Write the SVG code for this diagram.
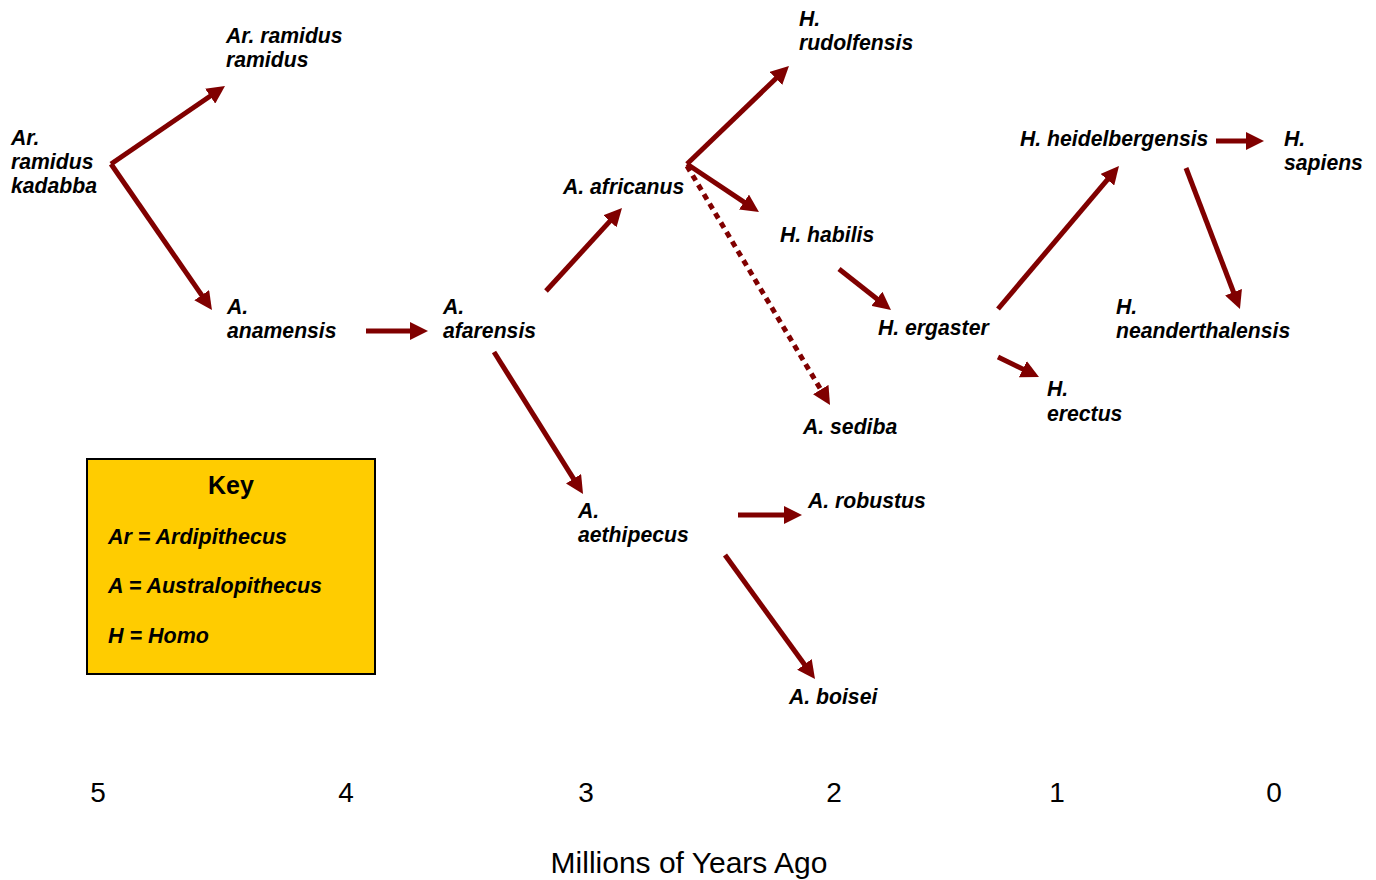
<svg xmlns="http://www.w3.org/2000/svg" width="1376" height="880" viewBox="0 0 1376 880">
<style>
.n{font-family:"Liberation Sans",Arial,sans-serif;font-weight:bold;font-style:italic;font-size:21.2px;fill:#000}
.k{font-family:"Liberation Sans",Arial,sans-serif;font-weight:bold;font-style:italic;font-size:21.5px;fill:#000}
.ax{font-family:"Liberation Sans",Arial,sans-serif;font-size:28px;fill:#000;text-anchor:middle}
.t{font-family:"Liberation Sans",Arial,sans-serif;font-size:30px;fill:#000;text-anchor:middle}
.c{stroke:#800000;stroke-width:5;fill:none;marker-end:url(#ah)}
.d{stroke-dasharray:6 5}
</style>
<defs>
<marker id="ah" viewBox="0 0 18 18" markerWidth="18" markerHeight="18" markerUnits="userSpaceOnUse" refX="10" refY="9" orient="auto">
<path d="M0,0 L18,9 L0,18 z" fill="#800000"/>
</marker>
</defs>
<rect width="1376" height="880" fill="#fff"/>
<g id="connectors">
<path class="c" d="M111,164 L218.4,90.5"/>
<path class="c" d="M111,164 L207.4,303.4"/>
<path class="c" d="M366,331 L420,331"/>
<path class="c" d="M546,291 L616.6,213.9"/>
<path class="c" d="M494,352 L578.8,487.2"/>
<path class="c" d="M687,164 L783.2,71.5"/>
<path class="c" d="M687,164 L752.3,207.6"/>
<path class="c d" d="M687,166 L825.9,398.1"/>
<path class="c" d="M839,269 L884.7,305"/>
<path class="c" d="M998,309 L1113.8,172.1"/>
<path class="c" d="M998,357 L1031.8,373.5"/>
<path class="c" d="M1216,141 L1256,141"/>
<path class="c" d="M1186,168 L1237.1,301.5"/>
<path class="c" d="M738,515 L794,515"/>
<path class="c" d="M725,555 L810.3,672.5"/>
</g>
<g id="kadabba"><text class="n" x="11" y="145">Ar.</text><text class="n" x="11" y="169">ramidus</text><text class="n" x="11" y="193">kadabba</text></g>
<g id="ramidus"><text class="n" x="226" y="43">Ar. ramidus</text><text class="n" x="226" y="67">ramidus</text></g>
<g id="anamensis"><text class="n" x="227" y="314">A.</text><text class="n" x="227" y="338">anamensis</text></g>
<g id="afarensis"><text class="n" x="443" y="314">A.</text><text class="n" x="443" y="338">afarensis</text></g>
<g id="africanus"><text class="n" x="563" y="194">A. africanus</text></g>
<g id="rudolfensis"><text class="n" x="799" y="26">H.</text><text class="n" x="799" y="50">rudolfensis</text></g>
<g id="habilis"><text class="n" x="780" y="242">H. habilis</text></g>
<g id="ergaster"><text class="n" x="878" y="335">H. ergaster</text></g>
<g id="sediba"><text class="n" x="803" y="434">A. sediba</text></g>
<g id="heidelbergensis"><text class="n" x="1020" y="146">H. heidelbergensis</text></g>
<g id="sapiens"><text class="n" x="1284" y="146">H.</text><text class="n" x="1284" y="170">sapiens</text></g>
<g id="neanderthalensis"><text class="n" x="1116" y="314">H.</text><text class="n" x="1116" y="338">neanderthalensis</text></g>
<g id="erectus"><text class="n" x="1047" y="396">H.</text><text class="n" x="1047" y="421">erectus</text></g>
<g id="aethipecus"><text class="n" x="578" y="518">A.</text><text class="n" x="578" y="542">aethipecus</text></g>
<g id="robustus"><text class="n" x="808" y="508">A. robustus</text></g>
<g id="boisei"><text class="n" x="789" y="704">A. boisei</text></g>
<g id="key">
<rect x="87" y="459" width="288" height="215" fill="#FFCC00" stroke="#000" stroke-width="2"/>
<text x="231" y="494" text-anchor="middle" style="font-family:'Liberation Sans',Arial,sans-serif;font-weight:bold;font-size:25px">Key</text>
<text class="k" x="108" y="544">Ar = Ardipithecus</text>
<text class="k" x="108" y="593">A = Australopithecus</text>
<text class="k" x="108" y="643">H = Homo</text>
</g>
<g id="axis">
<text class="ax" x="98" y="802">5</text>
<text class="ax" x="346" y="802">4</text>
<text class="ax" x="586" y="802">3</text>
<text class="ax" x="834" y="802">2</text>
<text class="ax" x="1057" y="802">1</text>
<text class="ax" x="1274" y="802">0</text>
<text class="t" x="689" y="873">Millions of Years Ago</text>
</g>
</svg>
